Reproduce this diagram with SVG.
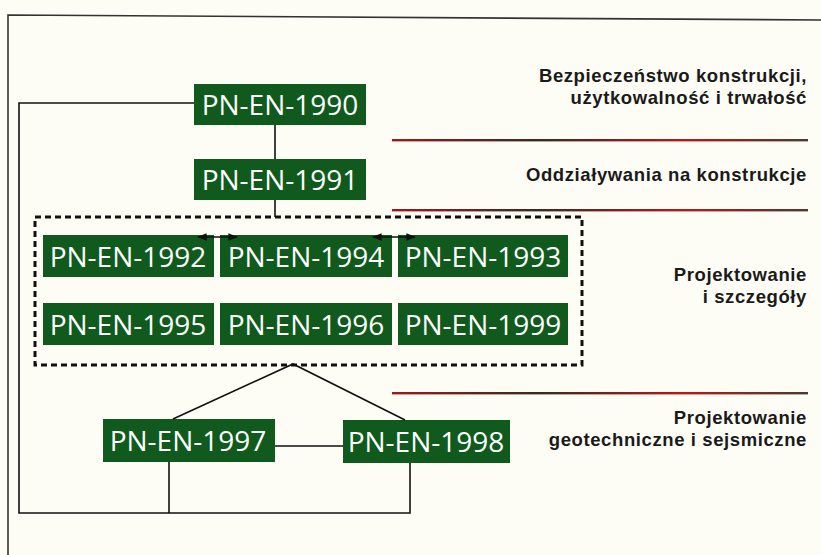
<svg xmlns="http://www.w3.org/2000/svg" width="821" height="555" viewBox="0 0 821 555">
<defs>
<linearGradient id="rl" gradientUnits="userSpaceOnUse" x1="392" x2="808" y1="0" y2="0">
<stop offset="0" stop-color="#a01818"/>
<stop offset="0.35" stop-color="#3a2a22"/>
<stop offset="0.7" stop-color="#b81818"/>
<stop offset="1" stop-color="#4a3a30"/>
</linearGradient>
<marker id="ah" viewBox="0 0 10 10" refX="9" refY="5" markerWidth="6" markerHeight="6" orient="auto-start-reverse">
<path d="M0,1 L10,5 L0,9 z" fill="#111"/>
</marker>
</defs>
<style>
.bx{fill:#0f5a1c}
.bt{fill:#ffffff;font-family:"Open Sans","Noto Sans",sans-serif;font-size:28px;text-anchor:middle}
.lb{fill:#1a1a1a;font-family:"Liberation Sans",Arial,sans-serif;font-size:18.5px;letter-spacing:0.6px;font-weight:bold;text-anchor:end}
.cn{fill:none;stroke:#111;stroke-width:1.6}
.sep{fill:url(#rl)}
</style>
<rect width="821" height="555" fill="#fdfcf5"/>
<g id="frame">
<path d="M8,555 L8,15 L821,20" fill="none" stroke="#333" stroke-width="1.6"/>
</g>
<g id="separators">
<rect class="sep" x="392" y="139" width="416" height="2.4"/>
<rect class="sep" x="392" y="209" width="416" height="2.4"/>
<rect class="sep" x="392" y="392" width="416" height="2.4"/>
</g>
<g id="labels">
<text class="lb" x="807" y="82">Bezpieczeństwo konstrukcji,</text>
<text class="lb" x="807" y="104">użytkowalność i trwałość</text>
<text class="lb" x="807" y="181">Oddziaływania na konstrukcje</text>
<text class="lb" x="807" y="281">Projektowanie</text>
<text class="lb" x="807" y="303">i szczegóły</text>
<text class="lb" x="807" y="424">Projektowanie</text>
<text class="lb" x="807" y="446">geotechniczne i sejsmiczne</text>
</g>
<g id="group-design">
<rect x="35" y="217" width="547" height="148" fill="none" stroke="#111" stroke-width="3" stroke-dasharray="6 4"/>
</g>
<g id="n1990"><rect class="bx" x="194" y="84" width="172" height="41"/><text class="bt" x="280" y="115">PN-EN-1990</text></g>
<g id="n1991"><rect class="bx" x="194" y="159" width="172" height="41"/><text class="bt" x="280" y="190">PN-EN-1991</text></g>
<g id="n1992"><rect class="bx" x="43" y="235" width="171" height="42"/><text class="bt" x="128" y="267">PN-EN-1992</text></g>
<g id="n1994"><rect class="bx" x="220" y="235" width="172" height="42"/><text class="bt" x="306" y="267">PN-EN-1994</text></g>
<g id="n1993"><rect class="bx" x="398" y="235" width="170" height="42"/><text class="bt" x="483" y="267">PN-EN-1993</text></g>
<g id="n1995"><rect class="bx" x="43" y="303" width="171" height="42"/><text class="bt" x="128" y="335">PN-EN-1995</text></g>
<g id="n1996"><rect class="bx" x="220" y="303" width="172" height="42"/><text class="bt" x="306" y="335">PN-EN-1996</text></g>
<g id="n1999"><rect class="bx" x="398" y="303" width="170" height="42"/><text class="bt" x="483" y="335">PN-EN-1999</text></g>
<g id="n1997"><rect class="bx" x="103" y="419" width="172" height="43"/><text class="bt" x="188" y="451">PN-EN-1997</text></g>
<g id="n1998"><rect class="bx" x="343" y="420" width="167" height="43"/><text class="bt" x="426" y="452">PN-EN-1998</text></g>
<g id="connectors">
<path class="cn" d="M275,125 L275,159"/>
<path class="cn" d="M275,200 L275,217"/>
<path class="cn" d="M194,103 L19,103 L19,513 L410,513 L410,463"/>
<path class="cn" d="M169,462 L169,513"/>
<path class="cn" d="M275,446 L343,446"/>
<path class="cn" d="M173,419 L293,364 L405,420"/>
<line class="cn" x1="198" y1="237" x2="237" y2="237" marker-start="url(#ah)" marker-end="url(#ah)"/>
<line class="cn" x1="373" y1="237" x2="415" y2="237" marker-start="url(#ah)" marker-end="url(#ah)"/>
</g>
</svg>
